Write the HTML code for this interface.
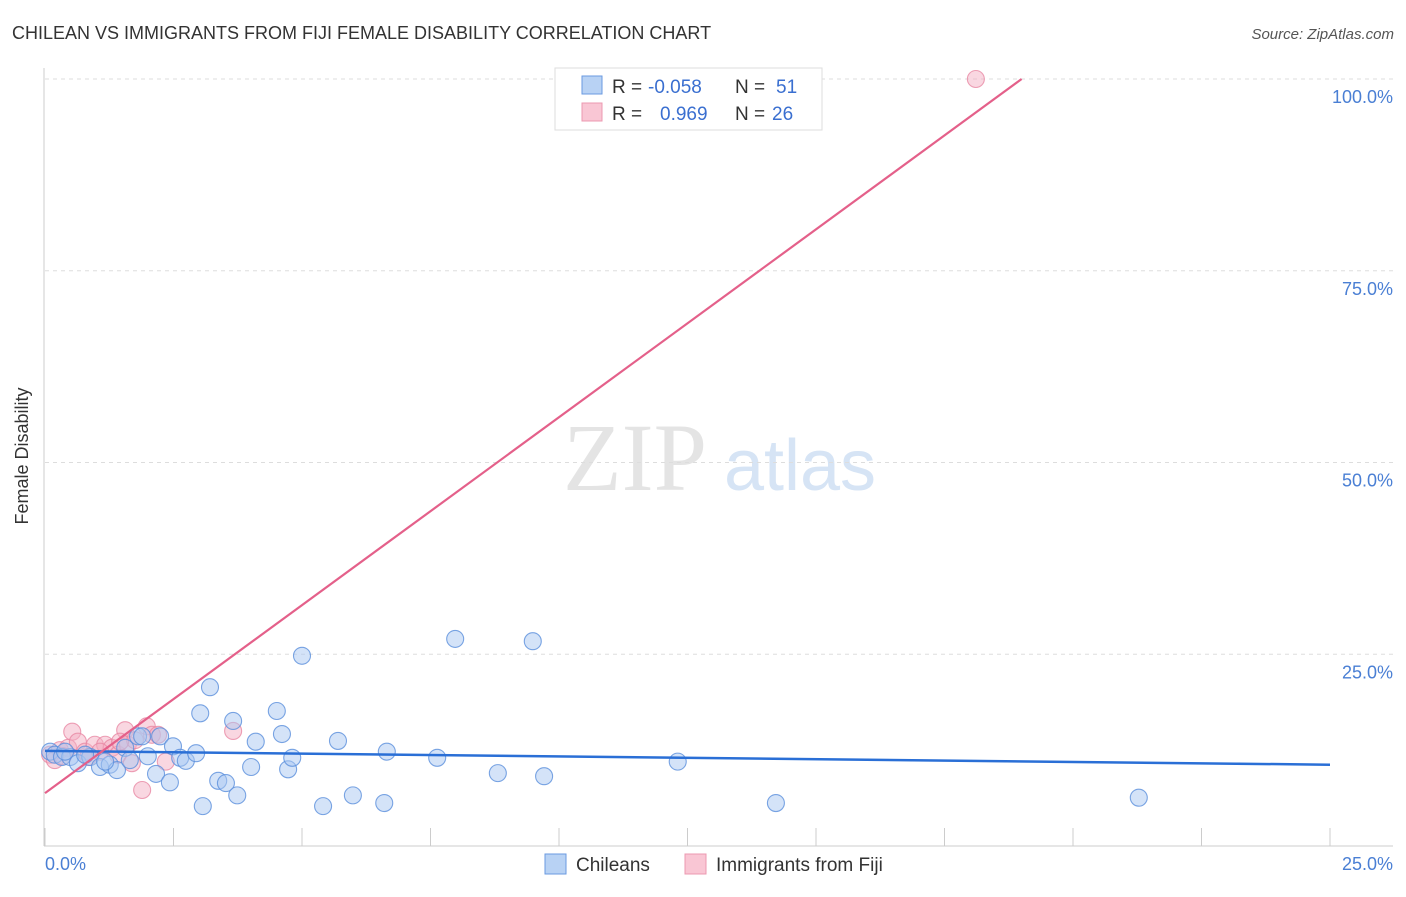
<!DOCTYPE html>
<html><head><meta charset="utf-8"><style>
body{margin:0;background:#fff;font-family:"Liberation Sans",sans-serif}
svg text{font-family:"Liberation Sans",sans-serif}
</style></head><body>
<svg width="1406" height="892" viewBox="0 0 1406 892">
<text x="12" y="39" font-size="18" fill="#333">CHILEAN VS IMMIGRANTS FROM FIJI FEMALE DISABILITY CORRELATION CHART</text>
<text x="1394" y="39" font-size="15" fill="#555" font-style="italic" text-anchor="end">Source: ZipAtlas.com</text>
<text x="635" y="490" font-size="96" fill="#e4e4e4" text-anchor="middle" style="font-family:'Liberation Serif',serif">ZIP</text>
<text x="800" y="490" font-size="72" fill="#d6e4f5" text-anchor="middle">atlas</text>
<g id="grid"></g>
<line x1="44" y1="68" x2="44" y2="846" stroke="#ccc"/>
<line x1="44" y1="846" x2="1393" y2="846" stroke="#ccc"/>
<text x="28" y="456" font-size="18" fill="#333" text-anchor="middle" transform="rotate(-90 28 456)">Female Disability</text>
<text x="45" y="870" font-size="18" fill="#4a7fd4">0.0%</text>
<text x="1393" y="870" font-size="18" fill="#4a7fd4" text-anchor="end">25.0%</text>
<g id="marks"></g>
<g>
<rect x="555" y="68" width="267" height="62" fill="#fff" stroke="#ddd"/>
<rect x="582" y="76" width="20" height="18" fill="#b8d2f4" stroke="#6a9ae0"/>
<rect x="582" y="103" width="20" height="18" fill="#f9c6d4" stroke="#ec98b0"/>
<text x="612" y="93" font-size="19" fill="#333">R =</text>
<text x="648" y="93" font-size="19" fill="#3a6fd0">-0.058</text>
<text x="735" y="93" font-size="19" fill="#333">N =</text>
<text x="776" y="93" font-size="19" fill="#3a6fd0">51</text>
<text x="612" y="120" font-size="19" fill="#333">R =</text>
<text x="660" y="120" font-size="19" fill="#3a6fd0">0.969</text>
<text x="735" y="120" font-size="19" fill="#333">N =</text>
<text x="772" y="120" font-size="19" fill="#3a6fd0">26</text>
</g>
<g>
<rect x="545" y="854" width="21" height="20" fill="#b8d2f4" stroke="#6a9ae0"/>
<text x="576" y="871" font-size="19" fill="#333">Chileans</text>
<rect x="685" y="854" width="21" height="20" fill="#f9c6d4" stroke="#ec98b0"/>
<text x="716" y="871" font-size="19" fill="#333">Immigrants from Fiji</text>
</g>
</svg>
<script>
const yTicks=[25,50,75,100];
const yTickLabels=["25.0%","50.0%","75.0%","100.0%"];
const xTicks=[0,2.5,5,7.5,10,12.5,15,17.5,20,22.5,25];
const blueX=[0.10,0.19,0.33,0.49,0.64,0.88,1.07,1.26,1.40,1.56,1.81,1.89,2.00,2.16,2.24,2.43,2.49,2.63,2.74,2.94,3.02,3.07,3.21,3.37,3.52,3.66,3.74,4.01,4.10,4.51,4.61,4.73,4.81,5.00,5.41,5.70,5.99,6.60,6.65,7.63,7.98,8.81,9.49,9.71,12.31,14.22,21.28,0.39,0.78,1.17,1.65];
const blueY=[12.3,11.9,11.6,11.6,10.8,11.6,10.3,10.6,9.9,12.8,14.3,14.3,11.7,9.4,14.3,8.3,13.0,11.5,11.1,12.1,17.3,5.2,20.7,8.5,8.2,16.3,6.6,10.3,13.6,17.6,14.6,10.0,11.5,24.8,5.2,13.7,6.6,5.6,12.3,11.5,27.0,9.5,26.7,9.1,11.0,5.6,6.3,12.3,11.9,11.0,11.2];
const pinkX=[18.11,0.10,0.29,0.45,0.53,0.64,0.78,0.97,1.17,1.30,1.42,1.56,1.61,1.69,1.75,1.89,1.98,2.08,2.20,2.35,3.66,0.19,0.84,1.07,0.35,1.46];
const pinkY=[100,11.9,12.5,12.8,14.9,13.6,12.3,13.2,13.2,12.8,11.9,15.1,13.2,10.8,13.8,7.3,15.6,14.5,14.5,11.0,15.0,11.2,11.6,12.3,11.7,13.6];
const blueLine=[0,12.4,25,10.6];
const pinkLine=[0,6.9,19.0,100];
const NS="http://www.w3.org/2000/svg";
const sx=v=>45+v/25*1285, sy=v=>846-v/100*767;
function mk(t,a,p){const e=document.createElementNS(NS,t);for(const k in a)e.setAttribute(k,a[k]);p.appendChild(e);return e;}
const grid=document.getElementById('grid'), marks=document.getElementById('marks');
yTicks.forEach((t,i)=>{
 const l=mk('line',{x1:45,x2:1393,y1:sy(t),y2:sy(t),stroke:'#ddd','stroke-dasharray':'4,4'},grid);
 
 
 const tx=mk('text',{x:1393,y:sy(t)+24,'font-size':18,fill:'#4a7fd4','text-anchor':'end'},grid);
 tx.textContent=yTickLabels[i];
 
 
});
xTicks.forEach(t=>{
 const l=mk('line',{x1:sx(t),x2:sx(t),y1:828,y2:846,stroke:'#ccc'},grid);
 
 
});
function pts(X,Y,fill,stroke,name){X.forEach((x,i)=>{
 const c=mk('circle',{cx:sx(x),cy:sy(Y[i]),r:8.5,fill:fill,'fill-opacity':0.5,stroke:stroke,'stroke-width':1.1,'stroke-opacity':0.8},marks);
 
 
});}
pts(pinkX,pinkY,'#f4b0c4','#e888a4','fiji-point');
pts(blueX,blueY,'#a9c8f2','#5a8fdc','chilean-point');
const bl=mk('line',{x1:sx(blueLine[0]),y1:sy(blueLine[1]),x2:sx(blueLine[2]),y2:sy(blueLine[3]),stroke:'#2a6fd6','stroke-width':2.5},marks);


const pl=mk('line',{x1:sx(pinkLine[0]),y1:sy(pinkLine[1]),x2:sx(pinkLine[2]),y2:sy(pinkLine[3]),stroke:'#e4608a','stroke-width':2.2},marks);


</script>
</body></html>
